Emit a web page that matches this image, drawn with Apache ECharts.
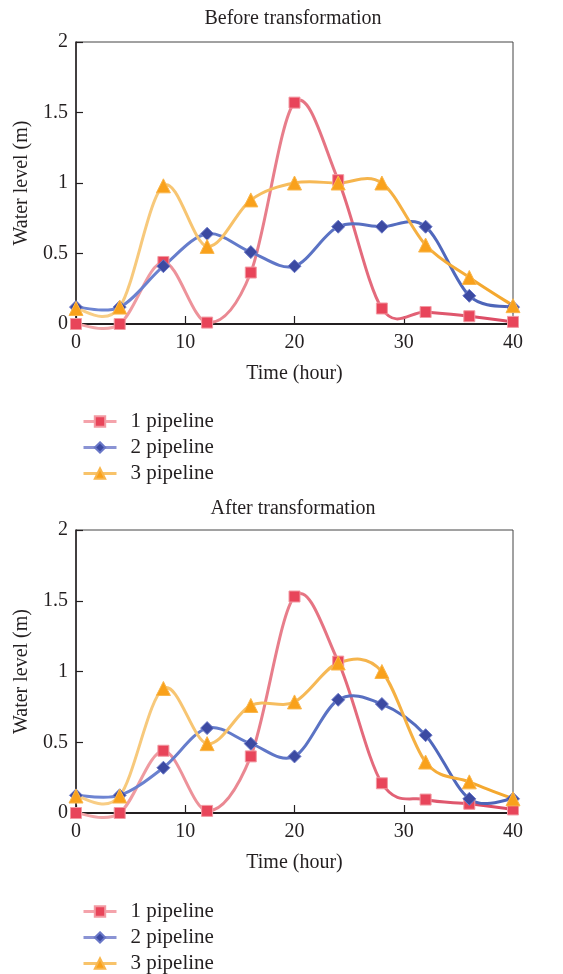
<!DOCTYPE html>
<html><head><meta charset="utf-8">
<script src="https://cdn.jsdelivr.net/npm/echarts@6/dist/echarts.min.js"></script>
<style>html,body{margin:0;padding:0;background:#fff}#c{width:563px;height:974px}</style>
</head><body><div id="c"></div>
<script>
const hours = [0, 4, 8, 12, 16, 20, 24, 28, 32, 36, 40];
const seriesNames = ['1 pipeline', '2 pipeline', '3 pipeline'];
const titles = ['Before transformation', 'After transformation'];
// Before transformation
const before1 = [0, 0, 0.44, 0.01, 0.365, 1.57, 1.02, 0.11, 0.085, 0.055, 0.015];
const before2 = [0.12, 0.12, 0.41, 0.64, 0.51, 0.41, 0.69, 0.69, 0.69, 0.20, 0.12];
const before3 = [0.11, 0.12, 0.98, 0.55, 0.88, 1.0, 1.0, 1.0, 0.56, 0.33, 0.13];
// After transformation
const after1 = [0, 0, 0.44, 0.015, 0.40, 1.53, 1.07, 0.21, 0.095, 0.065, 0.025];
const after2 = [0.125, 0.125, 0.32, 0.60, 0.49, 0.40, 0.80, 0.77, 0.55, 0.10, 0.10];
const after3 = [0.12, 0.12, 0.88, 0.49, 0.76, 0.785, 1.06, 1.0, 0.36, 0.22, 0.10];

const FONT = 'Liberation Serif';
const TXT = '#231F20';
const pairs = arr => hours.map((h, i) => [h, arr[i]]);
const styles = [
  {symbol: 'rect', size: 11, color: '#E8455A', border: '#F29AA3', line: ['#F2AAAC', '#DC4862'], legend: '#F4A3AB'},
  {symbol: 'diamond', size: 13, color: '#3C4AA2', border: '#6A78C8', line: ['#6F86D3', '#4B63B8'], legend: '#8A93D4'},
  {symbol: 'triangle', size: 14, color: '#F9A11B', border: '#F9B64C', line: ['#F8CF8A', '#F4A62A'], legend: '#F8C36A'}
];
const grids = [
  {left: 76, top: 42, width: 437, height: 282},
  {left: 76, top: 530, width: 437, height: 283}
];
const dataSets = [[before1, before2, before3], [after1, after2, after3]];

function hexMix(a, b, t) {
  const pa = [1, 3, 5].map(k => parseInt(a.substr(k, 2), 16));
  const pb = [1, 3, 5].map(k => parseInt(b.substr(k, 2), 16));
  return 'rgb(' + pa.map((v, i) => Math.round(v + (pb[i] - v) * t)).join(',') + ')';
}

// Catmull-Rom style smooth curve drawn through the data via the axis scales
function curveRenderer(arr, cols) {
  return function (params, api) {
    if (params.dataIndex !== 0) return null;
    const p = hours.map((h, i) => api.coord([h, arr[i]]));
    const n = p.length;
    const children = [];
    for (let i = 0; i < n - 1; i++) {
      const p0 = p[Math.max(i - 1, 0)], p1 = p[i], p2 = p[i + 1], p3 = p[Math.min(i + 2, n - 1)];
      children.push({
        type: 'bezierCurve',
        shape: {
          x1: p1[0], y1: p1[1], x2: p2[0], y2: p2[1],
          cpx1: p1[0] + (p2[0] - p0[0]) / 6, cpy1: p1[1] + (p2[1] - p0[1]) / 6,
          cpx2: p2[0] - (p3[0] - p1[0]) / 6, cpy2: p2[1] - (p3[1] - p1[1]) / 6
        },
        style: {fill: null, stroke: hexMix(cols[0], cols[1], (i + 0.5) / (n - 1)), lineWidth: 3, lineCap: 'round'}
      });
    }
    return {type: 'group', children: children};
  };
}

const xAxis = [], yAxis = [], series = [];
grids.forEach((g, gi) => {
  xAxis.push({
    type: 'value', gridIndex: gi, min: 0, max: 40, interval: 10,
    name: 'Time (hour)', nameLocation: 'middle', nameGap: 40,
    nameTextStyle: {fontFamily: FONT, fontSize: 20, color: TXT},
    axisLine: {show: true, lineStyle: {color: TXT, width: 2}},
    axisTick: {show: true, inside: true, length: 8, lineStyle: {color: TXT, width: 1.2}},
    axisLabel: {fontFamily: FONT, fontSize: 20, color: TXT, margin: 9},
    splitLine: {show: false}
  });
  yAxis.push({
    type: 'value', gridIndex: gi, min: 0, max: 2, interval: 0.5,
    name: 'Water level (m)', nameLocation: 'middle', nameGap: 43,
    nameTextStyle: {fontFamily: FONT, fontSize: 20, color: TXT},
    axisLine: {show: true, lineStyle: {color: TXT, width: 1.5}},
    axisTick: {show: true, inside: true, length: 7, lineStyle: {color: TXT, width: 1.2}},
    axisLabel: {fontFamily: FONT, fontSize: 20, color: TXT, margin: 8},
    splitLine: {show: false}
  });
  dataSets[gi].forEach((arr, si) => {
    const s = styles[si];
    series.push({
      name: seriesNames[si] + ' curve', type: 'custom', xAxisIndex: gi, yAxisIndex: gi,
      coordinateSystem: 'cartesian2d', data: pairs(arr), encode: {x: 0, y: 1},
      renderItem: curveRenderer(arr, s.line), clip: false, silent: true, z: 2
    });
  });
  dataSets[gi].forEach((arr, si) => {
    const s = styles[si];
    series.push({
      name: seriesNames[si], type: 'line', xAxisIndex: gi, yAxisIndex: gi,
      data: pairs(arr),
      symbol: s.symbol, symbolSize: s.size,
      itemStyle: {color: s.color, borderColor: s.border, borderWidth: 1},
      lineStyle: {width: 3, color: s.legend, opacity: 0},
      z: 3 + si
    });
  });
});

const chart = echarts.init(document.getElementById('c'), null, {renderer: 'canvas'});
chart.setOption({
  animation: false,
  backgroundColor: '#fff',
  title: titles.map((t, i) => ({
    text: t, left: 288, textAlign: 'center', top: i === 0 ? 4 : 494,
    textStyle: {fontFamily: FONT, fontSize: 20, fontWeight: 'normal', color: TXT}
  })),
  grid: grids.map(g => Object.assign({show: true, borderColor: '#444', borderWidth: 1, backgroundColor: 'transparent'}, g)),
  legend: [406, 896].map(top => ({
    orient: 'vertical', left: 77, top: top, height: 100, itemWidth: 33, itemHeight: 13, itemGap: 5,
    data: seriesNames.map((n, i) => ({name: n, lineStyle: {color: styles[i].legend, opacity: 1, width: 3}})),
    lineStyle: {opacity: 1, width: 3},
    textStyle: {fontFamily: FONT, fontSize: 21, color: TXT, padding: [0, 0, 0, 9]}
  })),
  xAxis: xAxis, yAxis: yAxis, series: series
});
</script></body></html>
